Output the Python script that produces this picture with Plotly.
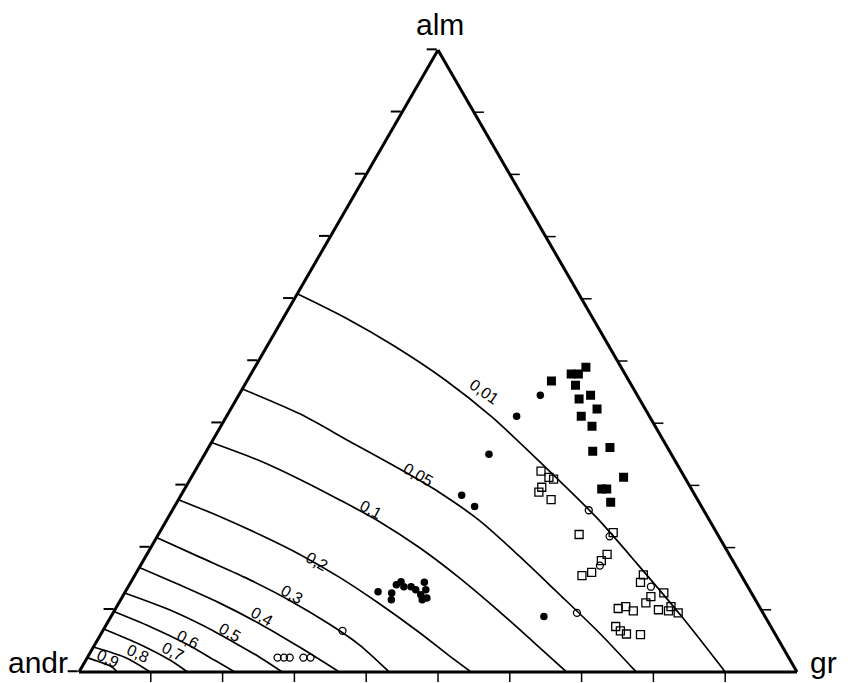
"""Ternary garnet diagram alm - andr - gr with contour lines and sample points."""

import plotly.graph_objects as go

# ---------------------------------------------------------------------------
# Data (fractions: alm on top, gr bottom-right, andr = 1 - alm - gr)
# ---------------------------------------------------------------------------

curve_levels = ["0,01", "0,05", "0,1", "0,2", "0,3", "0,4", "0,5", "0,6", "0,7", "0,8", "0,9"]

curve_alm = [
    [.608, .569, .524, .469, .410, .332, .248, .171, .089, 0],
    [.455, .415, .371, .327, .289, .244, .187, .126, .063, 0],
    [.369, .340, .310, .277, .242, .200, .152, .097, .048, 0],
    [.277, .250, .221, .189, .152, .110, .063, .027, 0],
    [.216, .185, .152, .115, .077, .044, 0],
    [.168, .140, .111, .076, .040, 0],
    [.127, .100, .073, .047, .024, 0],
    [.097, .073, .044, .019, 0],
    [.069, .044, .019, 0],
    [.040, .023, 0],
    [.023, .016, .008, 0],
]
curve_gr = [
    [0, .087, .177, .276, .370, .481, .597, .694, .795, .900],
    [0, .100, .191, .282, .357, .435, .519, .605, .693, .776],
    [0, .081, .152, .224, .297, .374, .453, .537, .609, .679],
    [0, .071, .141, .213, .287, .363, .443, .501, .546],
    [0, .075, .155, .236, .310, .368, .432],
    [0, .070, .140, .216, .287, .3625],
    [0, .076, .139, .193, .239, .283],
    [0, .062, .129, .179, .217],
    [0, .063, .117, .151],
    [0, .053, .099],
    [0, .021, .042, .053],
]

# filled squares
fsq_alm = [.468, .479, .479, .490, .461, .439, .445, .423, .411, .395, .355, .361, .313, .294, .294, .273]
fsq_gr = [.424, .446, .456, .461, .461, .477, .490, .510, .494, .517, .538, .559, .602, .581, .588, .604]

# filled circles
fci_alm = [.445, .411, .350, .284, .266, .089, .129, .116, .127, .140, .145, .137, .137, .132, .124,
           .144, .132, .119, .116]
fci_gr = [.420, .404, .396, .391, .418, .603, .352, .377, .372, .372, .376, .384, .394, .403, .414,
          .409, .417, .425, .420]

# open squares
osq_alm = [.323, .313, .310, .289, .297, .277, .221, .224, .189, .179, .160, .155, .156, .144, .127,
           .121, .111, .100, .105, .095, .098, .102, .105, .098, .073, .066, .061, .060]
osq_gr = [.482, .498, .506, .496, .496, .519, .586, .632, .641, .638, .634, .623, .708, .710, .751,
          .736, .734, .757, .772, .787, .772, .700, .709, .723, .711, .721, .732, .752]

# open circles
oci_alm = [.260, .218, .171, .137, .095, .066, .023, .023, .023, .023, .023]
oci_gr = [.580, .630, .640, .728, .646, .334, .265, .274, .282, .301, .311]

tick_vals = [0.1, 0.2, 0.3, 0.4, 0.5, 0.6, 0.7, 0.8, 0.9]

# ---------------------------------------------------------------------------
# Figure
# ---------------------------------------------------------------------------

W, H = 848, 683
OFF = 8  # page body margin of the html output
DOM_X = [71 / W, 789 / W]
DOM_Y = [1 - 664 / H, 1 - 42 / H]

fig = go.Figure()

for lvl, a, c in zip(curve_levels, curve_alm, curve_gr):
    fig.add_trace(go.Scatterternary(
        a=a, c=c, mode="lines", name=lvl,
        line=dict(color="black", width=1.7, shape="spline", smoothing=0.8),
        hoverinfo="skip",
    ))

fig.add_trace(go.Scatterternary(
    a=osq_alm, c=osq_gr, mode="markers", name="open squares",
    marker=dict(symbol="square-open", size=8, color="black", line=dict(width=1.3)),
))
fig.add_trace(go.Scatterternary(
    a=oci_alm, c=oci_gr, mode="markers", name="open circles",
    marker=dict(symbol="circle-open", size=7, color="black", line=dict(width=1.3)),
))
fig.add_trace(go.Scatterternary(
    a=fsq_alm, c=fsq_gr, mode="markers", name="filled squares",
    marker=dict(symbol="square", size=9, color="black"),
))
fig.add_trace(go.Scatterternary(
    a=fci_alm, c=fci_gr, mode="markers", name="filled circles",
    marker=dict(symbol="circle", size=7.5, color="black"),
))

axis_style = dict(
    title="", showgrid=False, showticklabels=False,
    dtick=0.1, tick0=0, min=0,
    showline=True, linewidth=3, linecolor="black",
)

fig.update_layout(
    width=W,
    height=H,
    margin=dict(l=0, r=0, t=0, b=0),
    paper_bgcolor="white",
    showlegend=False,
    font=dict(family="Liberation Sans, Arial, sans-serif", color="black"),
    ternary=dict(
        sum=1,
        domain=dict(x=DOM_X, y=DOM_Y),
        bgcolor="white",
        aaxis=dict(axis_style, ticks="outside", ticklen=10, tickwidth=1.5, tickcolor="black"),
        baxis=dict(axis_style, ticks=""),
        caxis=dict(axis_style, ticks=""),
    ),
)

# bottom ticks (vertical) and right ticks (horizontal), like the original drawing
x_left, x_right = DOM_X[0], DOM_X[1]
y_base, y_top = DOM_Y[0], DOM_Y[1]
x_apex = (x_left + x_right) / 2
for t in tick_vals:
    xb = x_left + (x_right - x_left) * t
    fig.add_shape(type="line", xref="paper", yref="paper",
                  x0=xb, x1=xb, y0=y_base, y1=y_base - 10 / H,
                  line=dict(color="black", width=1.5))
    xr = x_right + (x_apex - x_right) * t
    yr = y_base + (y_top - y_base) * t
    fig.add_shape(type="line", xref="paper", yref="paper",
                  x0=xr, x1=xr + 10 / W, y0=yr, y1=yr,
                  line=dict(color="black", width=1.5))

# vertex names (positions in page pixels of the original)
for txt, px, py in [("alm", 440, 24), ("andr", 38, 662), ("gr", 823, 662)]:
    fig.add_annotation(text=txt, x=(px - OFF) / W, y=1 - (py - OFF) / H,
                       xref="paper", yref="paper", xanchor="center", yanchor="middle",
                       showarrow=False, font=dict(size=30))

# contour labels, rotated along the curves
label_pos = [(484, 391, 35), (418, 474, 30), (371, 509, 28), (317, 561, 30), (292, 594, 30),
             (262, 616, 30), (230, 632, 30), (188, 639, 27), (173, 651, 27), (138, 653, 25),
             (108, 658, 25)]
for lvl, (px, py, ang) in zip(curve_levels, label_pos):
    fig.add_annotation(text=lvl, x=(px - OFF) / W, y=1 - (py - OFF) / H,
                       xref="paper", yref="paper", xanchor="center", yanchor="middle",
                       showarrow=False, textangle=ang, font=dict(size=16))

fig.write_html("out.html")
